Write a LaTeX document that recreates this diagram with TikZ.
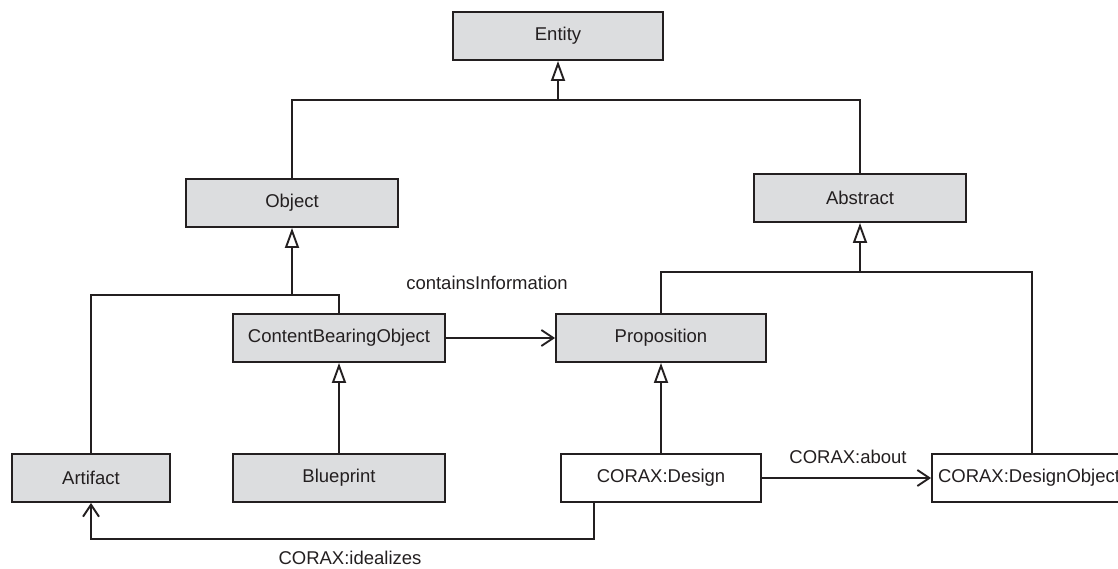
\documentclass[tikz,border=0pt]{standalone}
\usepackage{fontspec}
\setmainfont{Liberation Sans}
\usetikzlibrary{arrows.meta}
\definecolor{ink}{RGB}{35,31,32}
\definecolor{classfill}{RGB}{220,221,223}
\tikzset{
  classbox/.style={draw=ink, line width=1.9pt, fill=classfill, text=ink,
    minimum height=48pt, inner sep=0pt, font=\fontsize{18.5}{22}\selectfont},
  plainbox/.style={classbox, fill=white},
  link/.style={draw=ink, line width=1.9pt, line join=miter},
  gen/.style={link, -{Triangle[open, length=20pt, width=14pt, fill=white, line width=1.9pt]}},
  nav/.style={link, -{Straight Barb[length=12pt, width=16pt, line width=1.9pt]}},
  lbl/.style={text=ink, inner sep=0pt, font=\fontsize{18.5}{22}\selectfont}
}
\begin{document}
\begin{tikzpicture}[x=1pt, y=-1pt]
\useasboundingbox (0,0) rectangle (1118,569);
\clip (0,0) rectangle (1118,569);

% classes
\node[classbox, minimum width=210pt] (ent)  at (558,36)  {Entity};
\node[classbox, minimum width=212pt] (obj)  at (292,203) {Object};
\node[classbox, minimum width=212pt] (abs)  at (860,198) {Abstract};
\node[classbox, minimum width=212pt] (cbo)  at (339,338) {ContentBearingObject};
\node[classbox, minimum width=210pt] (prop) at (661,338) {Proposition};
\node[classbox, minimum width=158pt] (art)  at (91,478)  {Artifact};
\node[classbox, minimum width=212pt] (blue) at (339,478) {Blueprint};
\node[plainbox, minimum width=200pt] (des)  at (661,478) {CORAX:Design};
\node[plainbox, minimum width=200pt, text width=188pt, inner xsep=6pt, align=left]
  (dobj) at (1032,478) {CORAX:DesignObject};

% junction points of the generalization trees
\coordinate (j1) at (558,100);
\coordinate (j2) at (292,295);
\coordinate (j3) at (860,272);
\coordinate (j4) at (594,539);

% generalizations
\draw[link] (obj.north) |- (j1) -| (abs.north);
\draw[gen] (j1) -- (ent.south);
\draw[link] (art.north) |- (j2) -| (cbo.north);
\draw[gen] (j2) -- (obj.south);
\draw[link] (prop.north) |- (j3) -| (dobj.north);
\draw[gen] (j3) -- (abs.south);
\draw[gen] (blue.north) -- (cbo.south);
\draw[gen] (des.north) -- (prop.south);

% associations
\draw[nav] (cbo.east) -- (prop.west);
\draw[nav] (des.east) -- (dobj.west);
\draw[nav] (j4 |- des.south) -- (j4) -| (art.south);

% association labels
\node[lbl] (lci) at (487,283) {containsInformation};
\node[lbl] (lab) at (848,457) {CORAX:about};
\node[lbl] (lid) at (350,558) {CORAX:idealizes};
\end{tikzpicture}
\end{document}
